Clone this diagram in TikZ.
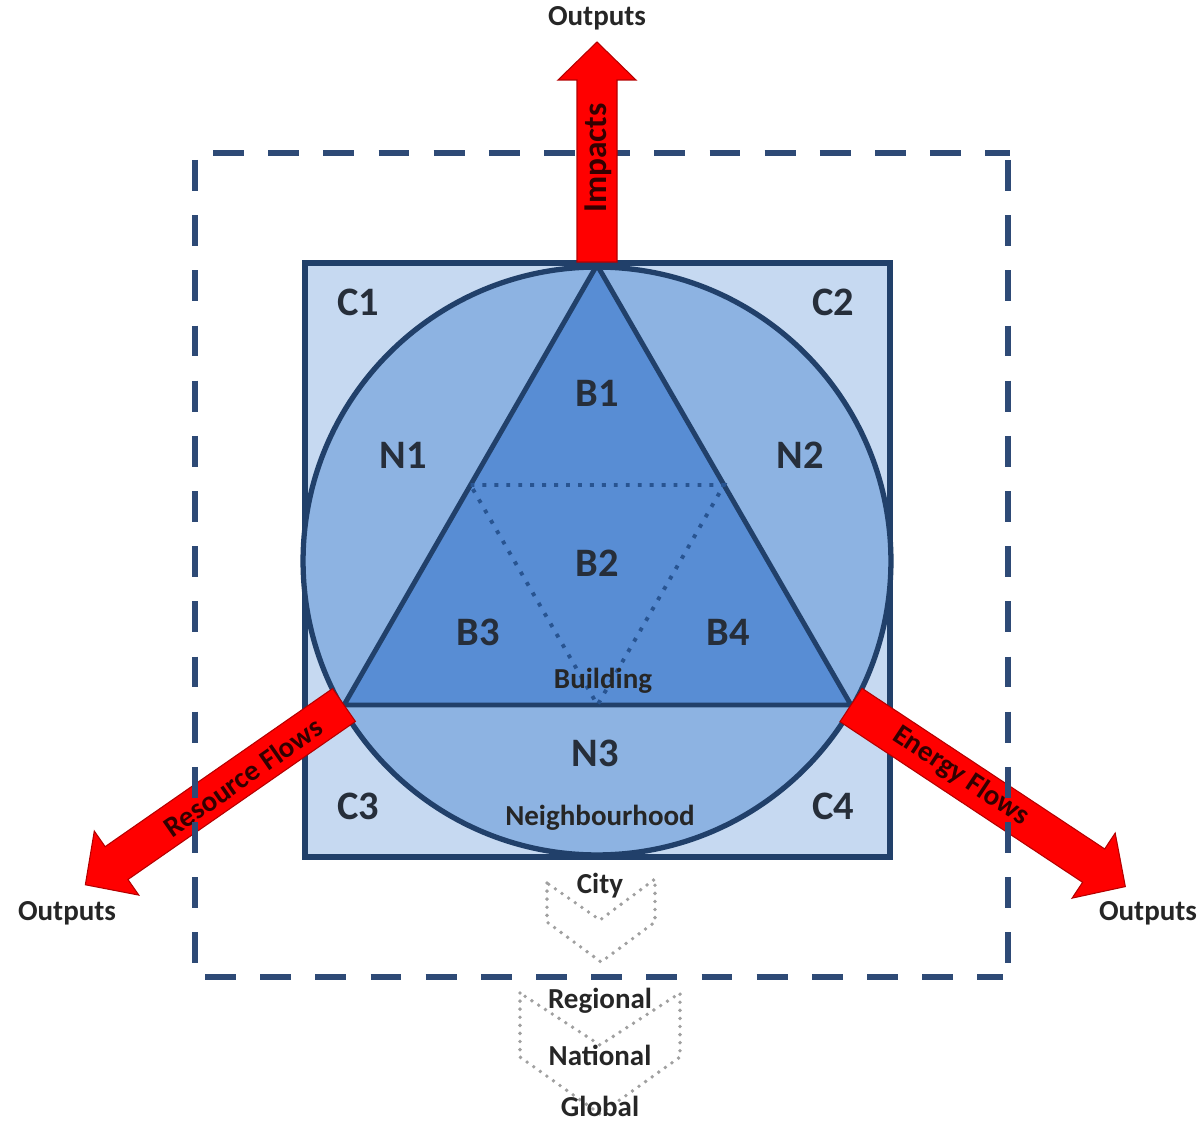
\documentclass[tikz,border=0pt]{standalone}
\usepackage{fontspec}
\setmainfont{Carlito}
\usetikzlibrary{calc}
\definecolor{frameblue}{RGB}{46,74,118}
\definecolor{edgeblue}{RGB}{33,64,106}
\definecolor{cellblue}{RGB}{198,217,241}
\definecolor{ringblue}{RGB}{141,179,226}
\definecolor{coreblue}{RGB}{88,141,212}
\definecolor{dotblue}{RGB}{40,84,145}
\definecolor{labelgray}{RGB}{38,46,58}
\definecolor{flowred}{RGB}{255,0,0}
\definecolor{flowedge}{RGB}{180,0,0}
\definecolor{chevgray}{RGB}{160,160,160}

% red flow arrow: start, angle, length
\newcommand{\flowshape}[3]{%
  \begin{scope}[shift={(#1)}, rotate=#2]
    \draw[flow] (0,-20) -- ({#3-38},-20) -- ({#3-38},-39) -- (#3,0)
      -- ({#3-38},39) -- ({#3-38},20) -- (0,20) -- cycle;
  \end{scope}}

\begin{document}
\begin{tikzpicture}[
    x=0.02cm, y=-0.02cm,
    cell/.style={font=\fontsize{23}{26}\selectfont\bfseries, text=labelgray},
    tag/.style={font=\fontsize{16.5}{19}\selectfont\bfseries, text=black!85},
    flowlbl/.style={font=\fontsize{16.5}{19}\selectfont\bfseries, text=black!80!red},
    flow/.style={fill=flowred, draw=flowedge, line width=0.6pt, line join=miter},
    chev/.style={draw=chevgray, line width=2.2pt, line cap=round,
                 dash pattern=on 0pt off 4.6pt, line join=round}
]
    \useasboundingbox (0,0) rectangle (1204,1122);

    % Square, circle, triangle
    \draw[fill=cellblue, draw=edgeblue, line width=3.2pt] (305,263) rectangle (890,857);
    \draw[fill=ringblue, draw=edgeblue, line width=3pt] (597,561) circle[radius=5.88cm];
    \coordinate (apex) at (597,265);
    \coordinate (bl) at (344,705);
    \coordinate (br) at (851,705);
    \draw[fill=coreblue, draw=edgeblue, line width=2.8pt, line join=round] (apex) -- (bl) -- (br) -- cycle;
    \coordinate (ml) at ($(apex)!0.5!(bl)$);
    \coordinate (mr) at ($(apex)!0.5!(br)$);
    \coordinate (mb) at ($(bl)!0.5!(br)$);
    \draw[dotblue, line width=2.2pt, dash pattern=on 2.2pt off 4.6pt] (ml) -- (mr) -- (mb) -- cycle;

    % Labels
    \node[cell] (c1) at (358,302) {C1};
    \node[cell] (c2) at (833,302) {C2};
    \node[cell] (c3) at (358,806) {C3};
    \node[cell] (c4) at (833,806) {C4};
    \node[cell] (n1) at (403,455) {N1};
    \node[cell] (n2) at (800,455) {N2};
    \node[cell] (n3) at (595,753) {N3};
    \node[cell] (b1) at (597,393) {B1};
    \node[cell] (b2) at (597,563) {B2};
    \node[cell] (b3) at (478,632) {B3};
    \node[cell] (b4) at (728,632) {B4};
    \node[tag] (bldg) at (603,681) {Building};
    \node[tag] (nbhd) at (600,818) {Neighbourhood};

    % Scale chevrons
    \draw[chev] (547,883) -- (547,922) -- (601,962) -- (655,922) -- (655,879) -- (600,920) -- cycle;
    \draw[chev] (520,993) -- (520,1057) -- (600,1114) -- (680,1057) -- (680,993) -- (600,1045) -- cycle;
    \node[tag] (city) at (600,886) {City};
    \node[tag] (region) at (600,1001) {Regional};
    \node[tag] (nation) at (600,1055) {National};
    \node[tag] (globe) at (600,1106) {Global};

    % Flows
    \flowshape{bl}{214.8}{315}
    \flowshape{br}{-33.5}{329}
    \node[flowlbl, rotate=34.8] (resflow) at (243,777) {Resource Flows};
    \node[flowlbl, rotate=-33.5] (enflow) at (961,776) {Energy Flows};

    % System boundary
    \begin{scope}[frameblue, line width=3.6pt, dash pattern=on 17.6pt off 13.8pt]
        \draw (213,153) -- (1010,153);
        \draw (1008,160) -- (1008,980);
        \draw (205,977) -- (1003,977);
        \draw (195,160) -- (195,980);
    \end{scope}

    \coordinate (top) at (597,262);
    \flowshape{top}{90}{220}
    \node[flowlbl, rotate=90, font=\fontsize{19}{22}\selectfont\bfseries] (impacts) at (598,158) {Impacts};

    \node[tag] (outtop) at (597,18) {Outputs};
    \node[tag] (outleft) at (67,913) {Outputs};
    \node[tag] (outright) at (1148,913) {Outputs};
\end{tikzpicture}
\end{document}
